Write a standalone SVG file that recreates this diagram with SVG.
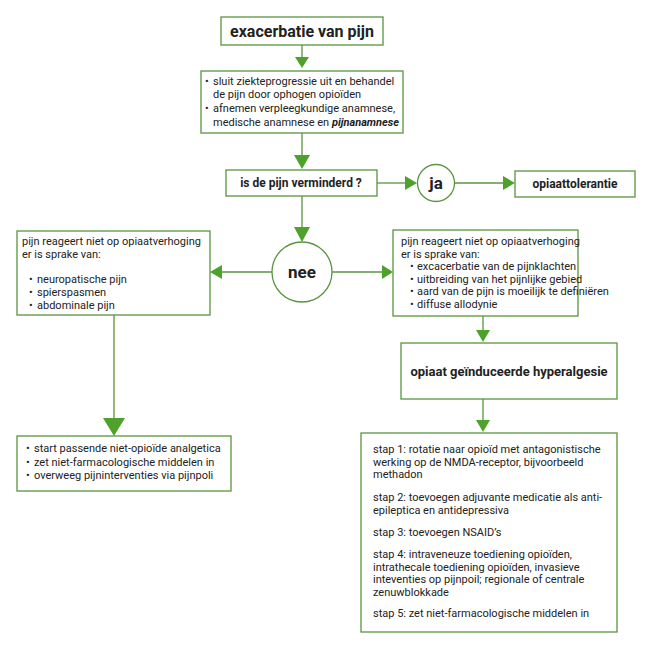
<svg xmlns="http://www.w3.org/2000/svg" width="654" height="651" viewBox="0 0 654 651">
<style>
.box{fill:#fff;stroke:#5a9440;stroke-width:1.3}
.circ{fill:#fff;stroke:#5a9440;stroke-width:1.3}
.ln{stroke:#5a9440;stroke-width:1.3;fill:none}
.ah{fill:#4ea22c}
text{font-family:Roboto,"Liberation Sans",sans-serif;fill:#222}
.b{font-weight:bold}
.t{font-size:11px}
</style>
<rect width="654" height="651" fill="#fff"/>
<g id="connectors">
<line class="ln" x1="302" y1="45" x2="302" y2="58"/>
<polygon class="ah" points="295,57 309,57 302,68"/>
<line class="ln" x1="302" y1="133" x2="302" y2="156"/>
<polygon class="ah" points="294,155 310,155 302,169"/>
<line class="ln" x1="377" y1="183" x2="406" y2="183"/>
<polygon class="ah" points="405,176 405,190 417,183"/>
<line class="ln" x1="455" y1="183" x2="504" y2="183"/>
<polygon class="ah" points="503,176 503,190 515,183"/>
<line class="ln" x1="302" y1="196" x2="302" y2="228"/>
<polygon class="ah" points="294,227 310,227 302,242"/>
<line class="ln" x1="272" y1="272" x2="221" y2="272"/>
<polygon class="ah" points="222,265 222,279 210,272"/>
<line class="ln" x1="332" y1="272" x2="383" y2="272"/>
<polygon class="ah" points="382,265 382,279 393,272"/>
<line class="ln" x1="114" y1="315" x2="114" y2="419"/>
<polygon class="ah" points="103,418 125,418 114,436"/>
<line class="ln" x1="483" y1="316" x2="483" y2="331"/>
<polygon class="ah" points="476,330 490,330 483,342"/>
<line class="ln" x1="483" y1="399" x2="483" y2="421"/>
<polygon class="ah" points="476,420 490,420 483,432"/>
</g>
<g id="n1">
<rect class="box" x="221" y="17" width="162" height="28"/>
<text class="b" x="302" y="37" font-size="16" text-anchor="middle">exacerbatie van pijn</text>
</g>
<g id="n2">
<rect class="box" x="201" y="71" width="202" height="62"/>
<text class="t"><tspan x="205" y="85">•</tspan><tspan x="213" y="85">sluit ziekteprogressie uit en behandel</tspan><tspan x="213" y="98">de pijn door ophogen opioïden</tspan><tspan x="205" y="112">•</tspan><tspan x="213" y="112">afnemen verpleegkundige anamnese,</tspan><tspan x="213" y="126">medische anamnese en <tspan class="b" font-style="italic">pijnanamnese</tspan></tspan></text>
</g>
<g id="n3">
<rect class="box" x="226" y="170" width="151" height="26"/>
<text class="b" x="301" y="187" font-size="12" text-anchor="middle">is de pijn verminderd ?</text>
</g>
<g id="n4">
<circle class="circ" cx="436" cy="183" r="18.5"/>
<text class="b" x="436" y="189" font-size="17" text-anchor="middle">ja</text>
</g>
<g id="n5">
<rect class="box" x="515" y="171" width="120" height="26"/>
<text class="b" x="575" y="188" font-size="12" text-anchor="middle">opiaattolerantie</text>
</g>
<g id="n6">
<circle class="circ" cx="302" cy="272" r="30"/>
<text class="b" x="302" y="278" font-size="17" text-anchor="middle">nee</text>
</g>
<g id="n7">
<rect class="box" x="17" y="231" width="193" height="84"/>
<text class="t"><tspan x="22" y="245">pijn reageert niet op opiaatverhoging</tspan><tspan x="22" y="258">er is sprake van:</tspan><tspan x="29" y="283">•</tspan><tspan x="37" y="283">neuropatische pijn</tspan><tspan x="29" y="296">•</tspan><tspan x="37" y="296">spierspasmen</tspan><tspan x="29" y="309">•</tspan><tspan x="37" y="309">abdominale pijn</tspan></text>
</g>
<g id="n8">
<rect class="box" x="393" y="230" width="185" height="86"/>
<text class="t"><tspan x="401" y="245">pijn reageert niet op opiaatverhoging</tspan><tspan x="401" y="257.5">er is sprake van:</tspan><tspan x="410" y="270">•</tspan><tspan x="417" y="270">excacerbatie van de pijnklachten</tspan><tspan x="410" y="282.5">•</tspan><tspan x="417" y="282.5">uitbreiding van het pijnlijke gebied</tspan><tspan x="410" y="295">•</tspan><tspan x="417" y="295">aard van de pijn is moeilijk te definiëren</tspan><tspan x="410" y="307.5">•</tspan><tspan x="417" y="307.5">diffuse allodynie</tspan></text>
</g>
<g id="n9">
<rect class="box" x="17" y="436" width="214" height="55"/>
<text class="t"><tspan x="26" y="452">•</tspan><tspan x="34" y="452">start passende niet-opioïde analgetica</tspan><tspan x="26" y="465.5">•</tspan><tspan x="34" y="465.5">zet niet-farmacologische middelen in</tspan><tspan x="26" y="479">•</tspan><tspan x="34" y="479">overweeg pijninterventies via pijnpoli</tspan></text>
</g>
<g id="n10">
<rect class="box" x="401" y="343" width="216" height="56"/>
<text class="b" x="509" y="376" font-size="13" text-anchor="middle">opiaat geïnduceerde hyperalgesie</text>
</g>
<g id="n11">
<rect class="box" x="361" y="433" width="256" height="199"/>
<text class="t"><tspan x="373" y="453">stap 1: rotatie naar opioïd met antagonistische</tspan><tspan x="373" y="465.5">werking op de NMDA-receptor, bijvoorbeeld</tspan><tspan x="373" y="478">methadon</tspan><tspan x="373" y="501">stap 2: toevoegen adjuvante medicatie als anti-</tspan><tspan x="373" y="513.5">epileptica en antidepressiva</tspan><tspan x="373" y="535.5">stap 3: toevoegen NSAID’s</tspan><tspan x="373" y="558">stap 4: intraveneuze toediening opioïden,</tspan><tspan x="373" y="570.5">intrathecale toediening opioïden, invasieve</tspan><tspan x="373" y="583">inteventies op pijnpoil; regionale of centrale</tspan><tspan x="373" y="595.5">zenuwblokkade</tspan><tspan x="373" y="617">stap 5: zet niet-farmacologische middelen in</tspan></text>
</g>
</svg>
